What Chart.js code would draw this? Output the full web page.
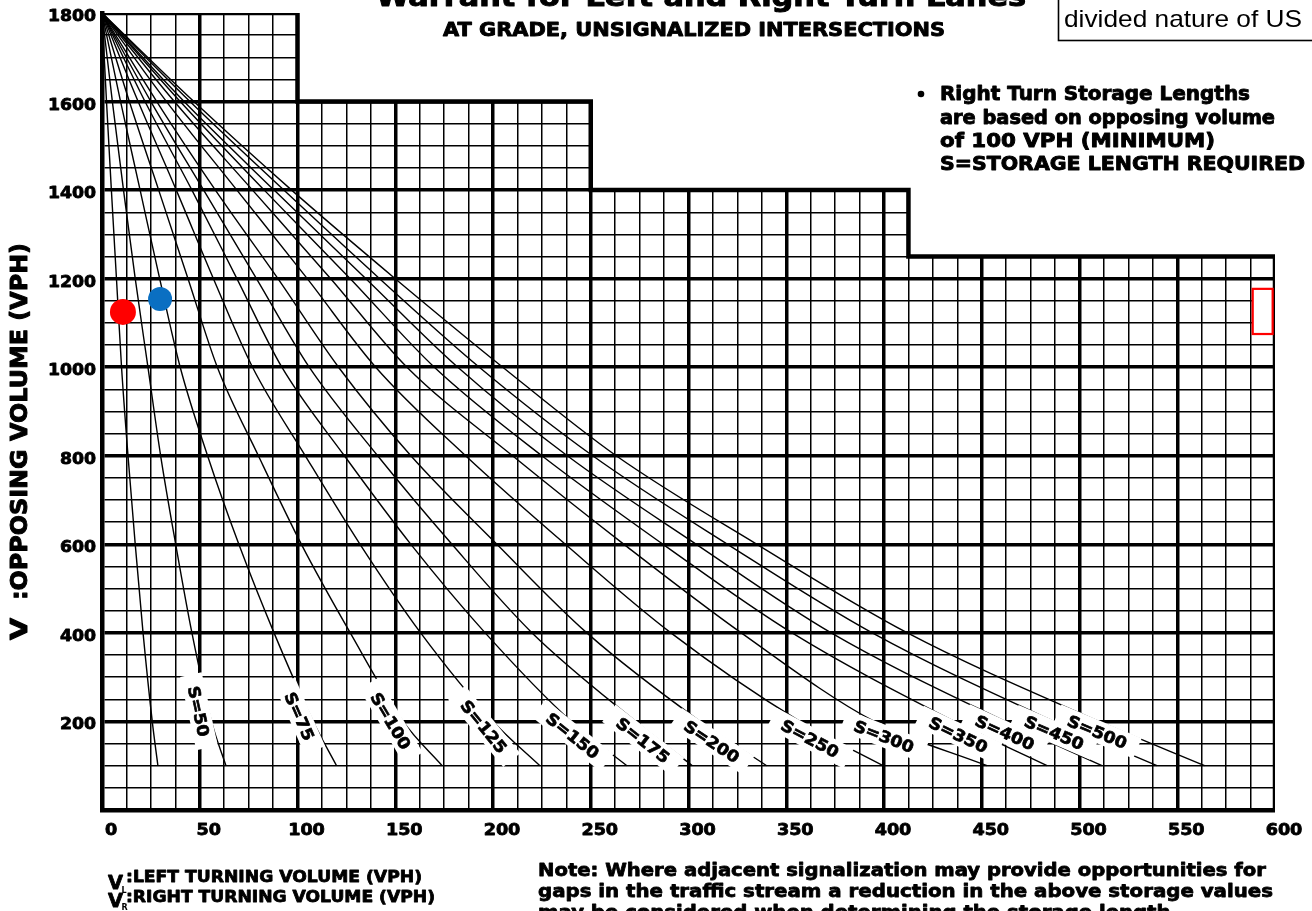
<!DOCTYPE html>
<html>
<head>
<meta charset="utf-8">
<title>Storage Length Warrant</title>
<script src="https://cdn.jsdelivr.net/npm/chart.js@4.4.1/dist/chart.umd.min.js"></script>
<style>
  html, body { margin: 0; padding: 0; background: #fff; overflow: hidden; }
  canvas { display: block; }
</style>
</head>
<body>
<canvas id="chart" width="1312" height="911"></canvas>
<script>
// Opposing volume (VPH) at which every storage curve is sampled
const levels = [1800, 1600, 1400, 1200, 1000, 800, 600, 400, 200, 100];

// Turning volume (VPH) of each storage curve at those opposing volumes
const sUnlabeled = [0, 2.3, 4.8, 7.4, 10, 13.3, 17, 21, 25.7, 28.6];
const s50  = [0, 5.3, 11, 17, 23.5, 30, 37.7, 46, 56, 63.4];
const s75  = [0, 9.5, 19.5, 29.5, 40, 54, 70, 88, 108, 120];
const s100 = [0, 14, 29, 44, 59, 80, 102, 127, 154, 174];
const s125 = [0, 18.5, 38, 57, 77, 104, 132, 163, 200, 224];
const s150 = [0, 22, 46, 69, 92, 124, 158, 196, 240, 268.5];
const s175 = [0, 25, 52, 79, 106, 141, 179, 220, 273, 302];
const s200 = [0, 28, 58, 90, 121, 158, 202, 248, 306, 340];
const s250 = [0, 33, 69, 105, 140, 186, 237, 291, 357, 399.5];
const s300 = [0, 37, 77, 117, 156, 210, 267, 327, 395, 452.7];
const s350 = [0, 40, 83, 127, 170, 225, 287, 353, 436, 483.4];
const s400 = [0, 42, 88, 135, 182, 238, 304, 373, 462, 511.5];
const s450 = [0, 45, 93, 142, 193, 251, 320, 394, 487, 539.6];
const s500 = [0, 47, 97, 150, 205, 263, 335, 412, 510, 564];

const curves = [sUnlabeled, s50, s75, s100, s125, s150, s175, s200, s250, s300, s350, s400, s450, s500];
const curveNames = ['', 'S=50', 'S=75', 'S=100', 'S=125', 'S=150', 'S=175', 'S=200',
                    'S=250', 'S=300', 'S=350', 'S=400', 'S=450', 'S=500'];

// Stepped upper limit of the chart grid
const boundaryX = [0, 100, 100, 250, 250, 412.5, 412.5, 600, 600];
const boundaryY = [1800, 1800, 1600, 1600, 1400, 1400, 1250, 1250, 0];

// Plotted intersections
const redX = [10.7], redY = [1125];
const blueX = [29.7], blueY = [1154];

// Highlight frame on the right edge
const markX = [588.6, 598.8];
const markY = [1075, 1177];

// Axis labels
const xTickLabels = [0, 50, 100, 150, 200, 250, 300, 350, 400, 450, 500, 550, 600];
const yTickLabels = [200, 400, 600, 800, 1000, 1200, 1400, 1600, 1800];

// Grid spacing: 12.5 VPH columns, 50 VPH rows
const gridX = [];
for (let v = 0; v <= 600; v += 12.5) gridX.push(v);
const gridY = [];
for (let v = 0; v <= 1800; v += 50) gridY.push(v);

const BOLD = '"DejaVu Sans", "Liberation Sans", sans-serif';

// Heavy text: filled and lightly stroked, optionally stretched to a width
function drawText(ctx, str, x, y, font, opts = {}) {
  ctx.save();
  ctx.font = font;
  ctx.fillStyle = opts.color || '#000';
  ctx.strokeStyle = opts.color || '#000';
  ctx.textAlign = opts.align || 'left';
  ctx.textBaseline = 'alphabetic';
  const w = ctx.measureText(str).width;
  const sx = opts.width ? opts.width / w : (opts.scale || 1);
  ctx.translate(x, y);
  if (opts.rotate) ctx.rotate(opts.rotate);
  ctx.scale(sx, 1);
  const dy = opts.dy || 0;
  ctx.fillText(str, 0, dy);
  if (opts.heavy) {
    ctx.lineWidth = opts.heavy;
    ctx.lineJoin = 'round';
    ctx.strokeText(str, 0, dy);
  }
  ctx.restore();
}

// White label boxes placed beside each storage curve, following its slope
const storageLabels = {
  id: 'storageLabels',
  afterDatasetsDraw(chart, args, opts) {
    const ctx = chart.ctx;
    const xs = chart.scales.x, ys = chart.scales.y;
    ctx.save();
    ctx.beginPath();
    ctx.rect(chart.chartArea.left, chart.chartArea.top, chart.chartArea.width, chart.chartArea.height);
    ctx.clip();
    opts.items.forEach(item => {
      const vals = curves[item.curve];
      const pts = levels.map((lv, i) => ({ x: xs.getPixelForValue(vals[i]), y: ys.getPixelForValue(lv) }));
      const py = ys.getPixelForValue(item.atY);
      let k = 1;
      while (k < pts.length - 1 && pts[k].y < py) k++;
      const a = pts[k - 1], b = pts[k];
      const t = (py - a.y) / (b.y - a.y);
      const px = a.x + t * (b.x - a.x);
      const ang = Math.atan2(b.y - a.y, b.x - a.x);
      const off = opts.offset;
      const cx = px - Math.sin(ang) * off;
      const cy = py + Math.cos(ang) * off;
      const text = curveNames[item.curve];
      ctx.save();
      ctx.translate(cx, cy);
      ctx.rotate(ang);
      ctx.font = 'bold 16px ' + BOLD;
      const w = ctx.measureText(text).width * 1.08;
      ctx.fillStyle = '#fff';
      ctx.fillRect(-w / 2 - opts.padX, -opts.half, w + 2 * opts.padX, 2 * opts.half);
      ctx.restore();
      drawText(ctx, text, cx, cy, 'bold 16px ' + BOLD, { align: 'center', scale: 1.08, heavy: 0.7, rotate: ang, dy: 6 });
    });
    ctx.restore();

    // highlight frame
    const x0 = xs.getPixelForValue(markX[0]), x1 = xs.getPixelForValue(markX[1]);
    const y0 = ys.getPixelForValue(markY[1]), y1 = ys.getPixelForValue(markY[0]);
    ctx.save();
    ctx.fillStyle = '#fff';
    ctx.fillRect(x0, y0, x1 - x0, y1 - y0);
    ctx.strokeStyle = '#ff0000';
    ctx.lineWidth = 2.2;
    ctx.strokeRect(x0, y0, x1 - x0, y1 - y0);
    ctx.restore();
  }
};

// Titles, axis text and notes
const annotationText = {
  id: 'annotationText',
  afterDraw(chart) {
    const ctx = chart.ctx;
    const xs = chart.scales.x, ys = chart.scales.y;

    // tick labels
    yTickLabels.forEach(v => {
      drawText(ctx, String(v), 96, ys.getPixelForValue(v) + 8, 'bold 16px ' + BOLD, { align: 'right', scale: 1.08, heavy: 0.8 });
    });
    xTickLabels.forEach(v => {
      drawText(ctx, String(v), xs.getPixelForValue(v) + 9, 835, 'bold 16px ' + BOLD, { align: 'center', scale: 1.1, heavy: 0.8 });
    });

    // headings
    drawText(ctx, 'Warrant for Left and Right Turn Lanes', 701, 6, 'bold 27px ' + BOLD, { align: 'center', width: 650, heavy: 1 });
    drawText(ctx, 'AT GRADE, UNSIGNALIZED INTERSECTIONS', 443, 36, 'bold 19px ' + BOLD, { width: 502, heavy: 0.9 });

    // boxed remark at top right
    ctx.save();
    ctx.strokeStyle = '#000';
    ctx.lineWidth = 1.6;
    ctx.strokeRect(1058.5, -5, 300, 45.5);
    ctx.restore();
    drawText(ctx, 'divided nature of US', 1064, 27, '24px "Liberation Sans", Arial, sans-serif', { width: 238 });

    // storage note
    ctx.save();
    ctx.fillStyle = '#000';
    ctx.beginPath();
    ctx.arc(921, 94, 3.3, 0, Math.PI * 2);
    ctx.fill();
    ctx.restore();
    const f19 = 'bold 19px ' + BOLD;
    drawText(ctx, 'Right Turn Storage Lengths', 940, 100, f19, { width: 310, heavy: 0.9 });
    drawText(ctx, 'are based on opposing volume', 940, 124, f19, { width: 335, heavy: 0.9 });
    drawText(ctx, 'of 100 VPH (MINIMUM)', 940, 147, f19, { width: 275, heavy: 0.9 });
    drawText(ctx, 'S=STORAGE LENGTH REQUIRED', 940, 170, f19, { width: 365, heavy: 0.9 });

    // vertical axis title
    drawText(ctx, 'V', 27, 640, 'bold 23px ' + BOLD, { rotate: -Math.PI / 2, width: 22, heavy: 1 });
    drawText(ctx, ':OPPOSING VOLUME (VPH)', 27, 600, 'bold 23px ' + BOLD, { rotate: -Math.PI / 2, width: 357, heavy: 1 });

    // horizontal axis legend
    drawText(ctx, 'V', 108, 889, 'bold 20px ' + BOLD, { width: 15, heavy: 0.8 });
    drawText(ctx, 'L', 121.5, 893, 'bold 8px ' + BOLD);
    drawText(ctx, ':LEFT TURNING VOLUME (VPH)', 126, 882, 'bold 16px ' + BOLD, { width: 296, heavy: 0.8 });
    drawText(ctx, 'V', 108, 907, 'bold 20px ' + BOLD, { width: 15, heavy: 0.8 });
    drawText(ctx, 'R', 121.5, 910, 'bold 8px ' + BOLD);
    drawText(ctx, ':RIGHT TURNING VOLUME (VPH)', 126, 902, 'bold 16px ' + BOLD, { width: 309, heavy: 0.8 });

    // signalization note
    const f18 = 'bold 18px ' + BOLD;
    drawText(ctx, 'Note: Where adjacent signalization may provide opportunities for', 538, 876, f18, { width: 728, heavy: 0.8 });
    drawText(ctx, 'gaps in the traffic stream a reduction in the above storage values', 538, 897, f18, { width: 735, heavy: 0.8 });
    drawText(ctx, 'may be considered when determining the storage length.', 538, 918, f18, { width: 640, heavy: 0.8 });
  }
};

const curveDatasets = curves.map((vals, i) => ({
  label: curveNames[i] || 'S',
  data: vals.map((v, j) => ({ x: v, y: levels[j] })),
  borderColor: '#000',
  borderWidth: 1.4,
  pointRadius: 0,
  fill: false,
  cubicInterpolationMode: 'monotone',
  order: 5
}));

new Chart(document.getElementById('chart'), {
  type: 'line',
  data: {
    datasets: [
      {
        label: 'limit',
        data: boundaryX.map((v, i) => ({ x: v, y: boundaryY[i] })),
        borderColor: '#000',
        borderWidth: 4.5,
        borderJoinStyle: 'miter',
        backgroundColor: '#fff',
        fill: 'end',
        pointRadius: 0,
        tension: 0,
        order: 10
      },
      ...curveDatasets,
      {
        label: 'left',
        data: redX.map((v, i) => ({ x: v, y: redY[i] })),
        showLine: false,
        pointRadius: 13,
        pointBackgroundColor: '#ff0000',
        pointBorderWidth: 0,
        order: 1
      },
      {
        label: 'right',
        data: blueX.map((v, i) => ({ x: v, y: blueY[i] })),
        showLine: false,
        pointRadius: 12,
        pointBackgroundColor: '#0a6fc2',
        pointBorderWidth: 0,
        order: 1
      }
    ]
  },
  options: {
    responsive: false,
    animation: false,
    devicePixelRatio: 1,
    layout: { padding: { left: 0, right: 37, top: 13, bottom: 0 } },
    plugins: {
      legend: { display: false },
      tooltip: { enabled: false },
      storageLabels: {
        offset: 10,
        padX: 12,
        half: 11,
        items: [
          { curve: 1, atY: 228 }, { curve: 2, atY: 221 }, { curve: 3, atY: 213 },
          { curve: 4, atY: 203 }, { curve: 5, atY: 186 }, { curve: 6, atY: 176 },
          { curve: 7, atY: 174 }, { curve: 8, atY: 182 }, { curve: 9, atY: 188 },
          { curve: 10, atY: 191 }, { curve: 11, atY: 196 }, { curve: 12, atY: 196 },
          { curve: 13, atY: 198 }
        ]
      }
    },
    scales: {
      x: {
        type: 'linear',
        min: 0,
        max: 600,
        afterBuildTicks: s => { s.ticks = gridX.map(v => ({ value: v })); },
        afterFit: s => { s.height = 101; },
        ticks: { display: false },
        grid: {
          color: '#000',
          drawTicks: false,
          lineWidth: c => (c.tick.value === 0 || c.tick.value === 600) ? 0 : (c.tick.value % 50 === 0 ? 3.5 : 1.5)
        },
        border: { display: true, color: '#000', width: 4.5 }
      },
      y: {
        type: 'linear',
        min: 0,
        max: 1800,
        afterBuildTicks: s => { s.ticks = gridY.map(v => ({ value: v })); },
        afterFit: s => { s.width = 102; },
        ticks: { display: false },
        grid: {
          color: '#000',
          drawTicks: false,
          lineWidth: c => (c.tick.value === 0 || c.tick.value === 1800) ? 0 : (c.tick.value % 200 === 0 ? 3.5 : 1.5)
        },
        border: { display: true, color: '#000', width: 4.5 }
      }
    }
  },
  plugins: [storageLabels, annotationText]
});
</script>
</body>
</html>
